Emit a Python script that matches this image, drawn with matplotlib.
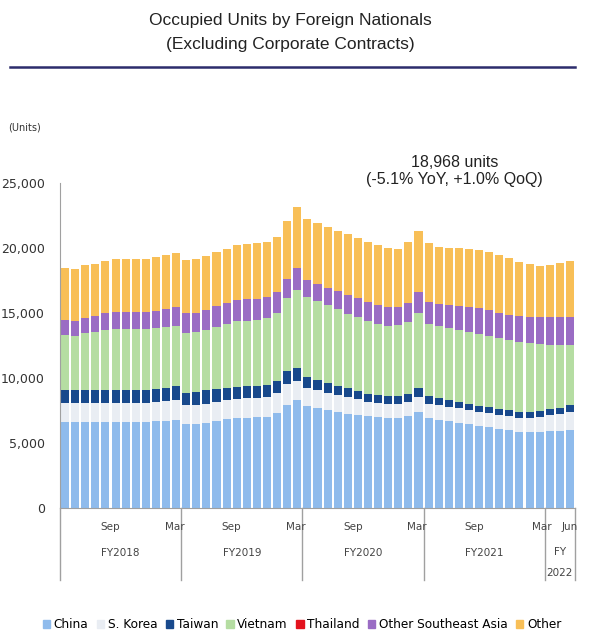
import matplotlib.pyplot as plt
from matplotlib.patches import Patch
import numpy as np

# monthly occupied units, Apr 2018 .. Jun 2022 (51 months)
china = [6615, 6615, 6615, 6615, 6615, 6615, 6615, 6615, 6615, 6692, 6692, 6769,
         6462, 6462, 6538, 6692, 6846, 6923, 6923, 7000, 7000, 7308, 7923, 8308,
         7846, 7692, 7538, 7385, 7231, 7154, 7077, 7000, 6923, 6923, 7077, 7385,
         6923, 6769, 6692, 6538, 6462, 6308, 6231, 6077, 6000, 5846, 5846, 5846,
         5923, 5923, 6000]
korea = [1462, 1462, 1462, 1462, 1462, 1462, 1462, 1462, 1462, 1462, 1538, 1538,
         1462, 1462, 1462, 1462, 1462, 1462, 1538, 1462, 1538, 1538, 1615, 1462,
         1385, 1385, 1308, 1308, 1308, 1231, 1077, 1077, 1077, 1077, 1077, 1154,
         1077, 1154, 1077, 1154, 1077, 1077, 1077, 1077, 1077, 1077, 1077, 1154,
         1231, 1308, 1385]
taiwan = [1000, 1000, 1000, 1000, 1000, 1000, 1000, 1000, 1000, 1000, 1000, 1077,
          923, 1000, 1077, 1000, 923, 923, 923, 923, 923, 923, 1000, 1000,
          846, 769, 769, 692, 692, 615, 615, 615, 615, 615, 615, 692,
          615, 538, 538, 462, 462, 462, 462, 462, 462, 462, 462, 462,
          462, 462, 538]
vietnam = [4231, 4154, 4385, 4462, 4615, 4692, 4692, 4692, 4692, 4692, 4692, 4615,
           4615, 4615, 4615, 4769, 4923, 5077, 5000, 5077, 5154, 5231, 5615, 6000,
           6154, 6077, 6000, 5923, 5692, 5692, 5615, 5462, 5385, 5462, 5538, 5769,
           5538, 5538, 5538, 5538, 5538, 5538, 5462, 5462, 5385, 5385, 5308, 5154,
           4923, 4846, 4615]
thailand = [0] * 51
other_sea = [1154, 1154, 1154, 1231, 1308, 1308, 1308, 1308, 1308, 1308, 1385, 1462,
             1538, 1462, 1538, 1615, 1615, 1615, 1692, 1615, 1615, 1615, 1462, 1692,
             1308, 1308, 1308, 1385, 1462, 1462, 1462, 1462, 1462, 1385, 1462, 1615,
             1692, 1692, 1769, 1846, 1923, 2000, 2000, 1923, 1923, 2000, 2000, 2077,
             2154, 2154, 2154]
other = [4000, 4000, 4077, 4000, 4000, 4077, 4077, 4077, 4077, 4154, 4154, 4154,
         4077, 4154, 4154, 4154, 4154, 4231, 4231, 4308, 4231, 4231, 4462, 4692,
         4692, 4692, 4692, 4615, 4692, 4615, 4615, 4615, 4538, 4462, 4692, 4692,
         4538, 4385, 4385, 4462, 4462, 4462, 4462, 4462, 4385, 4154, 4077, 3923,
         4000, 4154, 4276]

series = ['China', 'S. Korea', 'Taiwan', 'Vietnam', 'Thailand', 'Other Southeast Asia', 'Other']
colors = ['#8fbbec', '#e9edf3', '#18498c', '#b5dda2', '#e3121d', '#9a6cc4', '#f8bf57']
values = [china, korea, taiwan, vietnam, thailand, other_sea, other]

fy_labels = ['FY2018', 'FY2019', 'FY2020', 'FY2021', 'FY\n2022']
fy_starts = [0, 12, 24, 36, 48]
fy_ends = [12, 24, 36, 48, 51]

fig = plt.figure(figsize=(5.98, 6.35), dpi=100)
ax = fig.add_axes([60 / 598, 1 - 508 / 635, 515 / 598, 325 / 635])

x = np.arange(len(china))
bottom = np.zeros(len(china))
for name, col, vals in zip(series, colors, values):
    ax.bar(x, vals, width=0.8, bottom=bottom, color=col, label=name, linewidth=0)
    bottom += np.array(vals)

ax.set_xlim(-0.5, 50.5)
ax.set_ylim(0, 25000)
ax.set_yticks(range(0, 25001, 5000))
ax.set_yticklabels([f'{v:,}' for v in range(0, 25001, 5000)], fontsize=9, color='#333333')
ax.tick_params(axis='y', length=0, pad=11)
ax.set_xticks([])
for s in ['top', 'right']:
    ax.spines[s].set_visible(False)
ax.spines['left'].set_color('#a0a0a0')
ax.spines['bottom'].set_color('#a0a0a0')

# fiscal-year separators and labels under the axis
tr = ax.get_xaxis_transform()
for b in fy_starts + [51]:
    ax.plot([b - 0.5, b - 0.5], [0, -0.22], transform=tr, color='#a0a0a0', lw=1, clip_on=False)
for st, en, lab in zip(fy_starts, fy_ends, fy_labels):
    if lab.startswith('FY\n'):
        ax.text((st + en - 1) / 2, -0.135, 'FY', transform=tr, ha='center', va='center', fontsize=7.5, color='#444444')
        ax.text((st + en - 1) / 2, -0.2, '2022', transform=tr, ha='center', va='center', fontsize=7.5, color='#444444')
        ax.text(st + 0.2, -0.058, 'Mar', transform=tr, ha='right', va='center', fontsize=7.5, color='#444444')
        ax.text(en - 1, -0.058, 'Jun', transform=tr, ha='center', va='center', fontsize=7.5, color='#444444')
    else:
        ax.text((st + en - 1) / 2, -0.138, lab, transform=tr, ha='center', va='center', fontsize=7.5, color='#444444')
        ax.text(st + 4.5, -0.058, 'Sep', transform=tr, ha='center', va='center', fontsize=7.5, color='#444444')
        if st < 36:
            ax.text(en - 0.2, -0.058, 'Mar', transform=tr, ha='right', va='center', fontsize=7.5, color='#444444')

total = bottom[-1]
ax.text(38.6, 25900, f'{total:,.0f} units\n(-5.1% YoY, +1.0% QoQ)', ha='center', va='center',
        fontsize=11.5, family='Liberation Sans', linespacing=1.15, color='#222222')

fig.text(8 / 598, 1 - 127 / 635, '(Units)', fontsize=7, va='center', color='#333333')

fig.text(290 / 598, 1 - 20 / 635, 'Occupied Units by Foreign Nationals', ha='center', va='center',
         fontsize=12.5, family='Liberation Sans', color='#222222')
fig.text(290 / 598, 1 - 45 / 635, '(Excluding Corporate Contracts)', ha='center', va='center',
         fontsize=12.5, family='Liberation Sans', color='#222222')
fig.add_artist(plt.Line2D([10 / 598, 575 / 598], [1 - 67 / 635, 1 - 67 / 635], color='#2c2c6c', lw=1.8))

handles = [Patch(color=c, label=n) for n, c in zip(series, colors)]
fig.legend(handles=handles, loc='center', bbox_to_anchor=(0.505, 1 - 625 / 635), ncol=7, frameon=False,
           fontsize=8.7, handlelength=0.6, handleheight=0.6, handletextpad=0.3, columnspacing=0.7)

fig.savefig('out.png', dpi=100)
